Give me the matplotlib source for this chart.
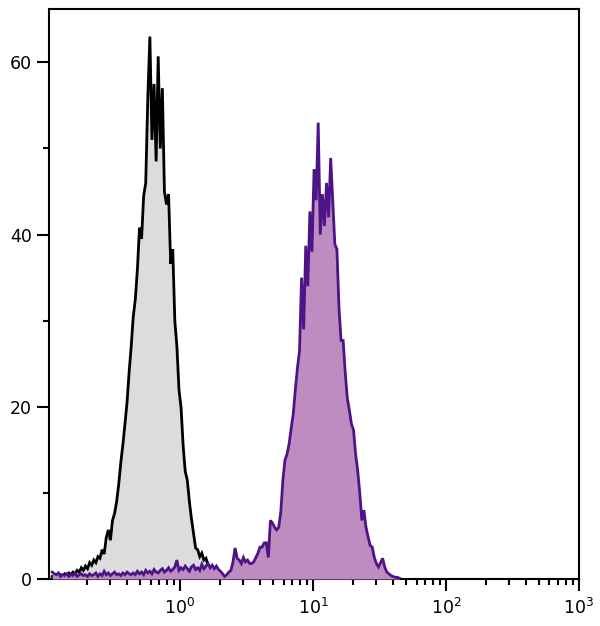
import numpy as np
import matplotlib
matplotlib.use('Agg')
import matplotlib.pyplot as plt
from matplotlib.ticker import LogLocator, FixedLocator, NullFormatter

# histogram channels: 256 channels over 4 decades (10^-1 .. 10^3)
channels_per_decade = 64
log_min = -1.0

# control (unstained) histogram, counts from channel 2 upward
gray_start = 2
gray_counts = [
    0.3, 0.2, 0.4, 0.3, 0.5, 0.3, 0.6, 0.4, 0.7, 0.5,
    0.8, 0.6, 1.0, 0.8, 1.3, 1.0, 1.5, 1.2, 1.9, 1.6,
    2.2, 1.9, 2.6, 2.4, 3.4, 2.9, 4.8, 5.7, 4.5, 6.8,
    7.6, 9.0, 11.0, 13.5, 15.6, 18.0, 20.5, 24.0, 27.0, 30.5,
    32.5, 36.0, 40.8, 39.5, 44.5, 46.0, 56.0, 63.0, 51.0, 57.5,
    48.5, 60.7, 50.0, 57.0, 45.0, 43.5, 44.7, 36.6, 38.3, 30.0,
    27.0, 22.0, 19.9, 15.5, 12.5, 11.5, 9.0, 7.0, 5.3, 3.6,
    3.4, 2.6, 3.0, 2.2, 2.4, 1.6, 1.4, 0.8, 0.5, 0.3,
    0.1, 0.0,
]

# stained histogram, counts from channel 2 upward
purple_start = 2
purple_counts = [
    0.8, 0.6, 0.5, 0.7, 0.3, 0.5, 0.4, 0.6, 0.3, 0.5,
    0.4, 0.7, 0.3, 0.5, 0.6, 0.4, 0.5, 0.3, 0.6, 0.4,
    0.5, 0.7, 0.3, 0.6, 0.4, 0.9, 0.5, 0.7, 0.4, 0.6,
    0.8, 0.5, 0.6, 0.4, 0.7, 0.5, 0.8, 0.6, 0.5, 0.7,
    0.5, 0.9, 0.6, 0.8, 0.5, 1.0, 0.7, 0.9, 0.6, 1.1,
    0.8, 0.7, 1.0, 1.2, 0.8, 1.0, 1.3, 0.9, 1.1, 1.4,
    2.2, 1.0, 1.3, 1.1, 1.5, 1.2, 0.9, 1.4, 1.6, 1.1,
    1.3, 1.0, 1.7, 1.2, 1.5, 1.8, 1.3, 1.6, 1.2, 1.5,
    1.1, 0.9, 0.6, 0.3, 0.5, 0.8, 1.0, 2.0, 3.6, 2.4,
    2.2, 1.8, 2.5, 2.0, 2.2, 1.8, 1.8, 2.0, 2.5, 3.0,
    3.7, 3.7, 4.2, 4.2, 2.5, 6.8, 6.5, 6.0, 5.7, 6.0,
    7.8, 11.5, 13.8, 14.5, 15.7, 17.5, 19.2, 22.0, 24.5, 26.5,
    35.0, 29.0, 38.7, 34.0, 42.7, 38.0, 47.6, 44.0, 53.0, 40.0,
    44.7, 41.0, 46.0, 42.0, 48.9, 44.0, 38.9, 38.3, 31.5, 27.7,
    27.7, 24.0, 21.0, 19.6, 18.0, 17.3, 14.5, 12.6, 10.0, 6.8,
    8.0, 6.0, 4.9, 3.9, 3.7, 2.5, 1.8, 1.4, 1.9, 2.4,
    1.4, 0.8, 0.6, 0.4, 0.3, 0.2, 0.2, 0.1,
]

y_ticks = [0, 20, 40, 60]
y_minor = [10, 30, 50]


def channel_centers(start, n):
    k = np.arange(start, start + n) + 0.5
    return 10 ** (log_min + k / channels_per_decade)


plt.rcParams['font.family'] = ['DejaVu Sans']

fig = plt.figure(figsize=(6, 6.26), dpi=100)
ax = fig.add_axes([0.0817, 0.0751, 0.8833, 0.9105])

gx = channel_centers(gray_start, len(gray_counts))
px = channel_centers(purple_start, len(purple_counts))

ax.fill_between(gx, gray_counts, 0, color='#dcdcdc', lw=0, zorder=1)
ax.plot(gx, gray_counts, color='black', lw=2.0, solid_joinstyle='miter', zorder=2)
ax.fill_between(px, purple_counts, 0, color='#bf8cc2', lw=0, zorder=3)
ax.plot(px, purple_counts, color='#4c1587', lw=2.0, solid_joinstyle='miter', zorder=4)

ax.set_xscale('log')
ax.set_xlim(10 ** -0.985, 10 ** 3.0)
ax.set_ylim(0, 66.2)

ax.xaxis.set_major_locator(LogLocator(base=10, numticks=10))
ax.xaxis.set_minor_locator(LogLocator(base=10, subs=np.arange(2, 10), numticks=20))
ax.xaxis.set_minor_formatter(NullFormatter())
ax.yaxis.set_major_locator(FixedLocator(y_ticks))
ax.yaxis.set_minor_locator(FixedLocator(y_minor))

for s in ax.spines.values():
    s.set_linewidth(1.5)

ax.tick_params(which='major', length=8.5, width=1.5, labelsize=12.5, pad=4)
ax.tick_params(which='minor', length=4, width=1.5)
ax.tick_params(axis='x', which='major', pad=5)

fig.savefig('out.png', dpi=100)
